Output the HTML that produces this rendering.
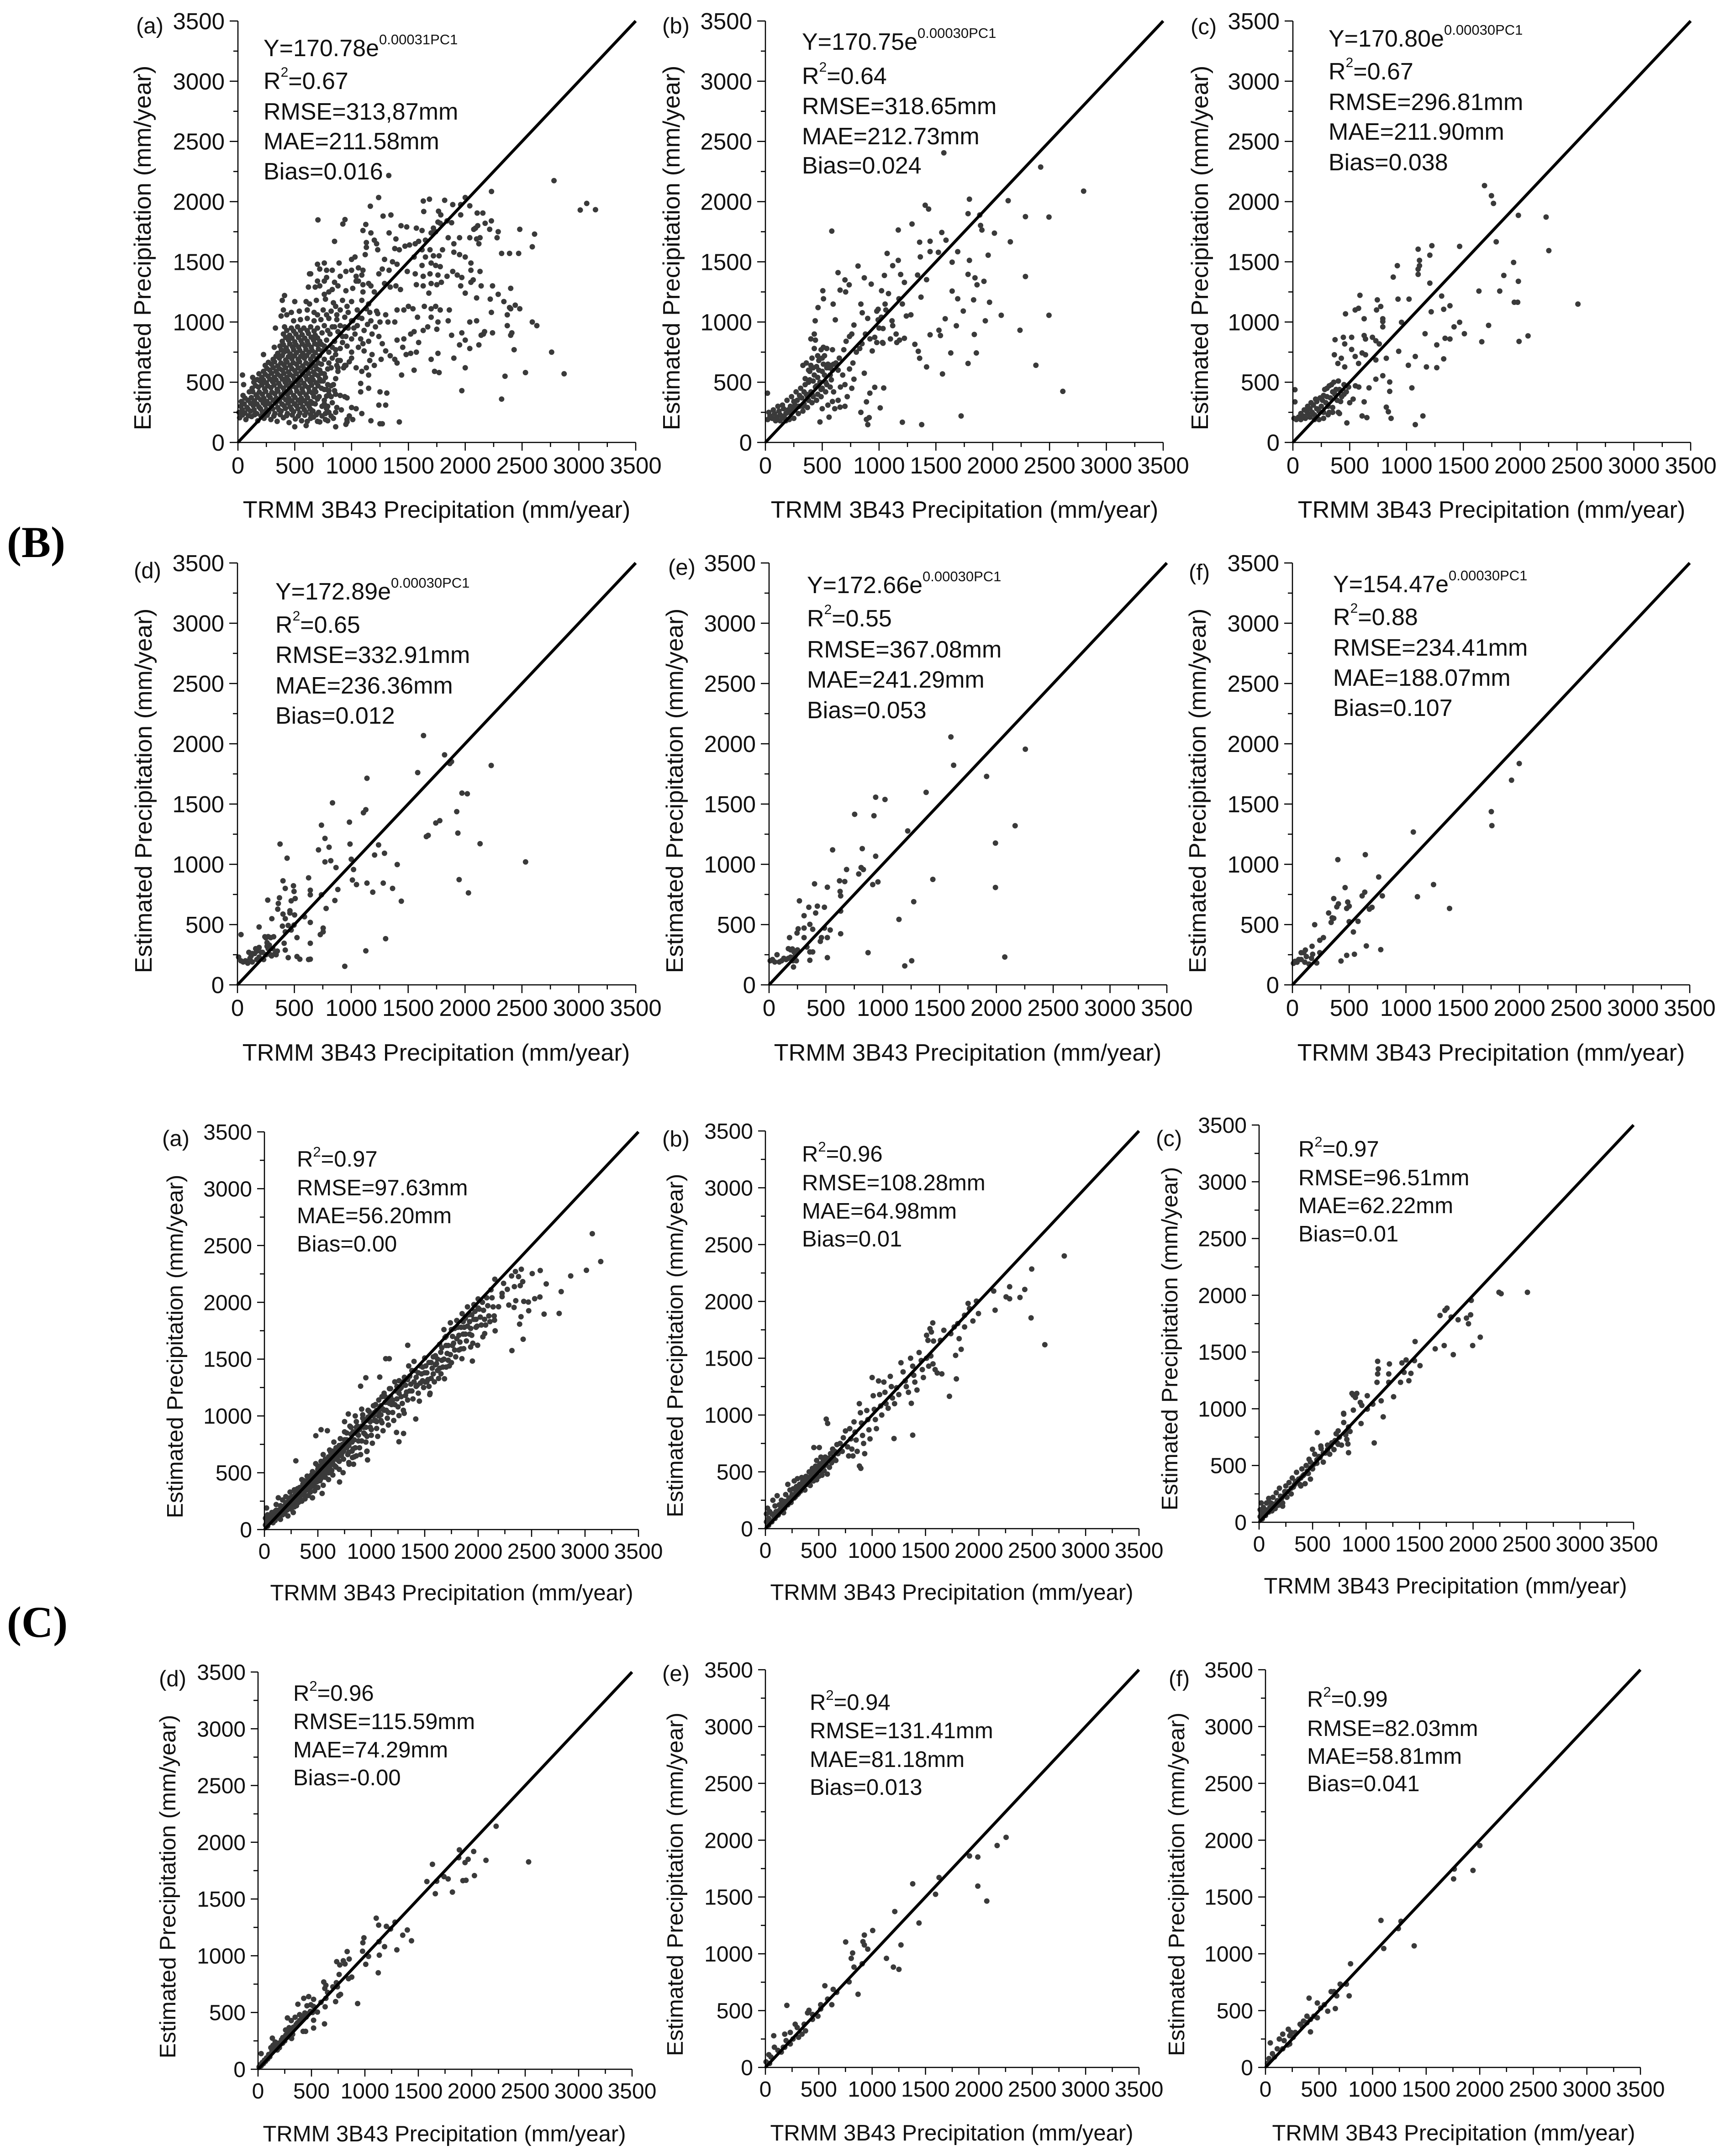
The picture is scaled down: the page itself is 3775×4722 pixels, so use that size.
<!DOCTYPE html>
<html lang="en">
<head>
<meta charset="utf-8">
<title>Estimated vs TRMM 3B43 Precipitation scatter plots</title>
<style>
html,body{margin:0;padding:0;background:#fff;}
svg{display:block;}
text{font-family:"Liberation Sans",Arial,sans-serif;fill:#111;}
.ann{font-size:52px;}
.ann2{font-size:49px;}
.title1{font-size:52px;text-anchor:middle;}
.title2{font-size:49px;text-anchor:middle;}
.letter{font-size:49px;}
.section{font-family:"Liberation Serif","Times New Roman",serif;font-weight:bold;font-size:96px;fill:#000;}
</style>
</head>
<body>
<svg id="figure" xmlns="http://www.w3.org/2000/svg" width="3775" height="4722" viewBox="0 0 3775 4722">
<rect x="0" y="0" width="3775" height="4722" fill="#fff"/>
<text class="section" x="15" y="1220">(B)</text>
<text class="section" x="15" y="3585">(C)</text>

<g id="panel-b-a">
<text class="letter" x="298" y="73">(a)</text>
<text class="title1" transform="translate(956,1134) scale(1.006,1)">TRMM 3B43 Precipitation (mm/year)</text>
<text class="title1" transform="translate(330,543) rotate(-90) scale(1.02,1)">Estimated Precipitation (mm/year)</text>
<text class="ann" x="577" y="123">Y=170.78e<tspan dy="-26" font-size="31">0.00031PC1</tspan></text>
<text class="ann" x="577" y="195">R<tspan dy="-27" font-size="30">2</tspan><tspan dy="27">=0.67</tspan></text>
<text class="ann" x="577" y="262">RMSE=313,87mm</text>
<text class="ann" x="577" y="327">MAE=211.58mm</text>
<text class="ann" x="577" y="393">Bias=0.016</text>
</g>

<g id="panel-b-b">
<text class="letter" x="1450" y="73">(b)</text>
<text class="title1" transform="translate(2112,1134) scale(1.006,1)">TRMM 3B43 Precipitation (mm/year)</text>
<text class="title1" transform="translate(1488,543) rotate(-90) scale(1.02,1)">Estimated Precipitation (mm/year)</text>
<text class="ann" x="1756" y="109">Y=170.75e<tspan dy="-26" font-size="31">0.00030PC1</tspan></text>
<text class="ann" x="1756" y="184">R<tspan dy="-27" font-size="30">2</tspan><tspan dy="27">=0.64</tspan></text>
<text class="ann" x="1756" y="250">RMSE=318.65mm</text>
<text class="ann" x="1756" y="316">MAE=212.73mm</text>
<text class="ann" x="1756" y="380">Bias=0.024</text>
</g>

<g id="panel-b-c">
<text class="letter" x="2607" y="75">(c)</text>
<text class="title1" transform="translate(3266,1134) scale(1.006,1)">TRMM 3B43 Precipitation (mm/year)</text>
<text class="title1" transform="translate(2645,543) rotate(-90) scale(1.02,1)">Estimated Precipitation (mm/year)</text>
<text class="ann" x="2909" y="102">Y=170.80e<tspan dy="-26" font-size="31">0.00030PC1</tspan></text>
<text class="ann" x="2909" y="174">R<tspan dy="-27" font-size="30">2</tspan><tspan dy="27">=0.67</tspan></text>
<text class="ann" x="2909" y="241">RMSE=296.81mm</text>
<text class="ann" x="2909" y="306">MAE=211.90mm</text>
<text class="ann" x="2909" y="373">Bias=0.038</text>
</g>

<g id="panel-b-d">
<text class="letter" x="293" y="1266">(d)</text>
<text class="title1" transform="translate(955,2323) scale(1.006,1)">TRMM 3B43 Precipitation (mm/year)</text>
<text class="title1" transform="translate(332,1732) rotate(-90) scale(1.02,1)">Estimated Precipitation (mm/year)</text>
<text class="ann" x="603" y="1313">Y=172.89e<tspan dy="-26" font-size="31">0.00030PC1</tspan></text>
<text class="ann" x="603" y="1386">R<tspan dy="-27" font-size="30">2</tspan><tspan dy="27">=0.65</tspan></text>
<text class="ann" x="603" y="1452">RMSE=332.91mm</text>
<text class="ann" x="603" y="1519">MAE=236.36mm</text>
<text class="ann" x="603" y="1585">Bias=0.012</text>
</g>

<g id="panel-b-e">
<text class="letter" x="1463" y="1259">(e)</text>
<text class="title1" transform="translate(2119,2323) scale(1.006,1)">TRMM 3B43 Precipitation (mm/year)</text>
<text class="title1" transform="translate(1495,1732) rotate(-90) scale(1.02,1)">Estimated Precipitation (mm/year)</text>
<text class="ann" x="1767" y="1299">Y=172.66e<tspan dy="-26" font-size="31">0.00030PC1</tspan></text>
<text class="ann" x="1767" y="1372">R<tspan dy="-27" font-size="30">2</tspan><tspan dy="27">=0.55</tspan></text>
<text class="ann" x="1767" y="1440">RMSE=367.08mm</text>
<text class="ann" x="1767" y="1506">MAE=241.29mm</text>
<text class="ann" x="1767" y="1573">Bias=0.053</text>
</g>

<g id="panel-b-f">
<text class="letter" x="2603" y="1270">(f)</text>
<text class="title1" transform="translate(3265,2323) scale(1.006,1)">TRMM 3B43 Precipitation (mm/year)</text>
<text class="title1" transform="translate(2640,1732) rotate(-90) scale(1.02,1)">Estimated Precipitation (mm/year)</text>
<text class="ann" x="2919" y="1297">Y=154.47e<tspan dy="-26" font-size="31">0.00030PC1</tspan></text>
<text class="ann" x="2919" y="1369">R<tspan dy="-27" font-size="30">2</tspan><tspan dy="27">=0.88</tspan></text>
<text class="ann" x="2919" y="1436">RMSE=234.41mm</text>
<text class="ann" x="2919" y="1502">MAE=188.07mm</text>
<text class="ann" x="2919" y="1568">Bias=0.107</text>
</g>

<g id="panel-c-a">
<text class="letter" x="355" y="2510">(a)</text>
<text class="title2" x="989" y="3505">TRMM 3B43 Precipitation (mm/year)</text>
<text class="title2" transform="translate(400,2949) rotate(-90) scale(1.02,1)">Estimated Precipitation (mm/year)</text>
<text class="ann2" x="650" y="2555">R<tspan dy="-22" font-size="31">2</tspan><tspan dy="22">=0.97</tspan></text>
<text class="ann2" x="650" y="2618">RMSE=97.63mm</text>
<text class="ann2" x="650" y="2679">MAE=56.20mm</text>
<text class="ann2" x="650" y="2741">Bias=0.00</text>
</g>

<g id="panel-c-b">
<text class="letter" x="1450" y="2511">(b)</text>
<text class="title2" x="2084" y="3504">TRMM 3B43 Precipitation (mm/year)</text>
<text class="title2" transform="translate(1495,2947) rotate(-90) scale(1.02,1)">Estimated Precipitation (mm/year)</text>
<text class="ann2" x="1756" y="2544">R<tspan dy="-22" font-size="31">2</tspan><tspan dy="22">=0.96</tspan></text>
<text class="ann2" x="1756" y="2607">RMSE=108.28mm</text>
<text class="ann2" x="1756" y="2669">MAE=64.98mm</text>
<text class="ann2" x="1756" y="2730">Bias=0.01</text>
</g>

<g id="panel-c-c">
<text class="letter" x="2531" y="2510">(c)</text>
<text class="title2" x="3165" y="3490">TRMM 3B43 Precipitation (mm/year)</text>
<text class="title2" transform="translate(2578,2932) rotate(-90) scale(1.02,1)">Estimated Precipitation (mm/year)</text>
<text class="ann2" x="2843" y="2533">R<tspan dy="-22" font-size="31">2</tspan><tspan dy="22">=0.97</tspan></text>
<text class="ann2" x="2843" y="2596">RMSE=96.51mm</text>
<text class="ann2" x="2843" y="2657">MAE=62.22mm</text>
<text class="ann2" x="2843" y="2719">Bias=0.01</text>
</g>

<g id="panel-c-d">
<text class="letter" x="348" y="3693">(d)</text>
<text class="title2" x="973" y="4690">TRMM 3B43 Precipitation (mm/year)</text>
<text class="title2" transform="translate(384,4132) rotate(-90) scale(1.02,1)">Estimated Precipitation (mm/year)</text>
<text class="ann2" x="642" y="3725">R<tspan dy="-22" font-size="31">2</tspan><tspan dy="22">=0.96</tspan></text>
<text class="ann2" x="642" y="3787">RMSE=115.59mm</text>
<text class="ann2" x="642" y="3849">MAE=74.29mm</text>
<text class="ann2" x="642" y="3910">Bias=-0.00</text>
</g>

<g id="panel-c-e">
<text class="letter" x="1450" y="3682">(e)</text>
<text class="title2" x="2084" y="4688">TRMM 3B43 Precipitation (mm/year)</text>
<text class="title2" transform="translate(1495,4127) rotate(-90) scale(1.02,1)">Estimated Precipitation (mm/year)</text>
<text class="ann2" x="1773" y="3745">R<tspan dy="-22" font-size="31">2</tspan><tspan dy="22">=0.94</tspan></text>
<text class="ann2" x="1773" y="3807">RMSE=131.41mm</text>
<text class="ann2" x="1773" y="3870">MAE=81.18mm</text>
<text class="ann2" x="1773" y="3931">Bias=0.013</text>
</g>

<g id="panel-c-f">
<text class="letter" x="2559" y="3693">(f)</text>
<text class="title2" x="3183" y="4688">TRMM 3B43 Precipitation (mm/year)</text>
<text class="title2" transform="translate(2593,4127) rotate(-90) scale(1.02,1)">Estimated Precipitation (mm/year)</text>
<text class="ann2" x="2862" y="3738">R<tspan dy="-22" font-size="31">2</tspan><tspan dy="22">=0.99</tspan></text>
<text class="ann2" x="2862" y="3802">RMSE=82.03mm</text>
<text class="ann2" x="2862" y="3863">MAE=58.81mm</text>
<text class="ann2" x="2862" y="3923">Bias=0.041</text>
</g>
</svg>

<script>
// Axis values (mm/year)
const axisMax = 3500;
const xTickValues = [0,500,1000,1500,2000,2500,3000,3500];
const yTickValues = [0,500,1000,1500,2000,2500,3000,3500];
const minorTickValues = [250,750,1250,1750,2250,2750,3250];
const oneToOneLine = [0,3500];

// Each series: flat list of TRMM, estimated, TRMM, estimated, ...
const seriesBa = [1327,2217,2781,2174,2231,2084,1238,2034,3069,1985,3012,1930,3146,1933,1165,1962,704,1848,942,1851,923,1814,1277,1880,1346,1889,1631,2005,1685,2020,1819,2011,1635,1918,1765,1920,1785,1890,2000,2034,1960,1975,2040,1965,1960,1890,1890,1975,2105,1905,2155,1905,2175,1820,2110,1800,
1125,1810,1100,1760,1170,1740,1330,1740,1435,1800,1485,1790,1570,1780,1620,1760,1720,1780,1760,1830,1840,1840,1880,1825,1780,1820,1700,1740,1740,1750,2230,1840,2215,1770,2290,1750,2280,1700,2480,1770,2610,1730,2590,1625,2470,1570,2320,1570,2390,1570,2075,1770,2090,1780,2040,1700,2100,1690,2130,1700,2120,1650,1950,1700,1900,1650,1850,1700,1650,1680,1560,1650,1590,1670,1470,1630,1510,1640,1390,1690,1130,1660,850,1670,1200,1680,1220,1650,1130,1620,1230,1600,1380,1610,1420,1600,1550,1540,1620,1600,1650,1540,1690,1600,1770,1550,1800,1600,1900,1580,1950,1560,2000,1540,2050,1490,2130,1420,2050,1430,1970,1370,1930,1390,1890,1420,1840,1380,1720,1550,1700,1490,1740,1470,1780,1460,1760,1390,1690,1400,1620,1470,1630,1380,1560,1400,1490,1420,1400,1480,1360,1500,1290,1520,1270,1440,1330,1430,1240,1400,1120,1560,1030,1540,1000,1520,890,1490,700,1480,760,1490,720,1440,780,1430,830,1430,950,1420,1000,1430,1060,1450,1100,1430,1040,1380,1060,1340,1150,1320,1200,1250,1290,1320,1340,1290,1390,1300,1430,1270,1570,1310,1630,1300,1700,1320,1680,1240,1750,1310,1790,1330,1960,1300,2050,1330,2070,1350,2140,1300,2240,1300,2400,1280,2000,1240,2100,1200,2220,1190,2290,1230,2340,1170,2400,1110,2440,1140,2390,1120,2480,1110,2230,1080,2370,1060,2100,1010,2040,1000,1860,1100,1780,1100,1740,1130,1700,1110,1640,1130,1540,1110,1500,1130,1460,1100,1400,1100,1300,1060,1230,1070,1160,1080,1580,1040,1630,930,1670,960,1750,940,1760,1000,1700,1040,1850,1010,1590,830,1520,900,1550,920,1400,850,1460,860,1320,1000,1380,1000,1250,1000,2370,970,2590,1000,2630,970,2240,910,2140,890,2160,900,1970,910,2000,850,1950,810,1880,890,2120,810,2040,780,2430,770,2400,890,2410,910,2170,920,1450,790,1480,730,1520,740,1570,750,1270,820,1300,760,1340,720,1380,690,1400,660,1260,690,1180,730,1110,760,1160,680,1200,640,1760,740,1700,690,1900,700,1730,590,1770,580,2000,620,1550,600,1440,560,2760,750,2870,570,2530,580,2350,550,1970,430,2320,360,1250,420,1310,410,1240,310,1300,310,1420,170,1250,155,1270,155,1170,180,1090,240,1040,280,1000,290,960,190,980,220,910,270,860,130,950,150,960,170,1010,190,1150,450,1080,490,1080,420,1150,560,1090,590,1130,620,1040,620,1000,700,940,640,880,620,840,480,820,380,860,400,900,390,940,380,960,370,780,440,800,400,760,320,780,280,820,220,860,250,720,170,770,190,600,140,640,200,660,260,500,130,
15,205,70,190,120,215,175,180,230,200,290,190,345,175,400,205,450,165,505,195,560,180,610,175,665,210,700,175,790,180,840,200,10,250,60,245,110,260,165,240,215,255,270,250,325,240,380,260,435,240,490,255,545,245,600,250,650,265,710,250,770,240,25,300,80,290,135,305,185,295,240,310,295,300,350,290,405,305,460,295,515,305,570,295,625,300,680,320,740,300,790,300,30,340,90,350,145,345,200,355,255,340,310,350,365,345,420,355,475,345,530,350,585,345,640,340,700,360,760,350,45,390,100,420,160,395,215,400,270,390,325,405,380,395,435,400,490,390,545,405,600,395,655,410,715,380,780,385,50,480,125,450,180,460,235,445,290,455,345,440,400,450,455,445,510,455,565,445,620,455,675,440,735,450,800,430,140,500,195,510,250,495,305,505,360,490,415,500,470,490,525,500,580,490,635,505,690,495,750,510,820,470,40,560,130,540,210,540,265,550,320,540,375,550,430,540,485,550,540,540,595,550,650,540,705,555,770,540,860,530,225,590,280,600,335,590,390,600,445,585,500,595,555,590,610,600,665,585,720,600,790,610,880,590,240,640,295,650,350,635,405,645,460,640,515,650,570,635,625,645,680,635,735,650,800,660,870,640,930,620,225,730,310,690,365,700,420,685,475,695,530,690,585,700,640,690,695,695,760,690,830,700,900,680,980,670,320,790,350,740,405,750,460,735,515,745,570,740,625,750,680,745,740,760,800,750,860,730,1000,750,370,800,425,785,480,795,535,790,590,800,645,790,700,810,760,800,830,790,900,780,960,800,1060,790,1100,820,390,840,445,850,500,835,555,845,610,840,665,850,720,840,780,850,850,840,920,830,1000,860,1080,860,1150,840,1240,880,330,950,400,900,455,890,510,900,565,895,620,905,680,890,740,910,810,900,880,920,950,880,1030,900,1110,930,1180,900,410,960,470,950,525,960,580,950,640,960,700,950,760,970,830,960,900,970,970,950,1050,970,1140,980,1210,960,380,1050,430,1060,490,1010,550,1020,610,1030,670,1010,730,1020,800,1030,870,1020,940,1040,1010,1010,1090,1030,1170,1010,400,1100,470,1080,540,1090,610,1100,670,1080,750,1100,820,1090,900,1100,970,1080,1050,1100,1130,1110,1220,1090,390,1180,410,1220,500,1170,600,1170,630,1150,690,1180,770,1190,840,1160,920,1180,1000,1170,1090,1180,1150,1150,620,1290,680,1290,720,1300,760,1230,800,1250,830,1270,880,1300,950,1260,1010,1280,1100,1250,1170,1300,630,1400,640,1400,700,1340,760,1340,780,1370,850,1330,900,1380,1040,1340,1090,1390,1100,1310,
40,228,92,222,147,230,203,220,258,226,316,219,372,231,428,222,478,228,532,220,588,226,640,232,38,272,88,278,142,270,198,280,252,274,306,278,362,270,418,282,472,274,528,280,584,272,636,278,55,320,112,325,168,318,222,328,278,320,332,326,388,318,442,326,498,320,552,328,608,322,660,325,62,368,118,372,172,375,228,366,284,374,338,368,392,376,448,366,502,374,558,368,612,372,668,380,130,422,188,418,244,424,298,416,352,426,408,420,462,418,518,426,572,418,628,424,685,420,155,472,210,478,262,470,318,476,372,468,428,476,482,468,538,476,592,470,648,476,705,470,170,522,225,518,280,526,336,518,390,526,444,516,498,524,552,518,608,526,662,518,720,525,185,570,240,566,296,574,350,566,404,574,458,564,514,572,568,566,622,574,678,566,735,575,255,615,310,622,366,612,420,620,474,614,530,620,584,612,640,622,694,612,268,665,322,670,378,660,432,668,486,662,542,670,598,660,652,668,708,660,335,716,390,722,444,712,498,720,552,714,606,722,660,716,718,720,382,768,436,760,490,770,544,764,598,772,652,764,708,775,400,812,456,818,512,810,566,818,620,814,676,820,735,815,420,872,476,866,532,872,588,866,644,874,700,868,430,930,490,925,550,930,610,928,670,925,
820,620,760,570,730,510,790,480,850,430,760,440,830,330,870,290,800,250,690,230,740,220,880,680,950,640,860,770,920,880,850,960,790,930,870,1060,940,960,1020,950,1000,1010,1060,1040,960,1130,860,1130,780,1060,700,1060];

const seriesBb = [1570,2405,2422,2287,2800,2087,1795,2020,2136,2008,1406,1970,1436,1938,2288,1875,2495,1872,1783,1900,1886,1889,584,1755,1893,1802,1905,1764,2015,1738,2155,1666,1169,1764,1290,1814,1552,1744,1589,1680,1357,1663,1449,1671,1071,1570,1522,1579,1692,1584,1449,1585,1363,1541,1960,1555,1643,1497,1795,1512,815,1465,1169,1512,1120,1468,639,1410,1190,1395,870,1367,700,1350,1047,1387,1339,1390,1783,1396,1844,1367,1923,1338,1862,1309,2288,1378,1418,1352,1223,1329,931,1315,737,1309,657,1265,505,1260,706,1250,1022,1260,1083,1236,1643,1257,1692,1193,1832,1184,1972,1164,511,1193,596,1149,463,1120,1175,1193,1205,1150,1369,1207,1053,1149,992,1106,840,1149,852,1077,1741,1091,2075,1056,2495,1056,1582,1027,1935,1010,1680,969,2240,932,1527,932,1449,894,1838,897,1540,888,438,1010,615,1018,779,975,992,1018,1035,946,1114,1010,962,873,1223,865,1156,830,1035,824,1315,815,1345,757,1357,699,1631,743,1856,743,1418,627,1783,656,1558,569,2380,641,2617,424,1722,220,1205,168,1375,148,901,148,889,191,840,250,913,206,1010,287,962,458,1041,452,919,409,889,337,657,293,779,525,870,575,18,409,
20,190,40,220,60,200,80,240,100,210,120,260,140,220,160,280,180,240,200,270,220,300,240,260,260,310,280,350,300,300,320,370,340,320,360,400,380,350,400,420,420,380,440,460,460,400,480,500,500,450,520,560,540,480,560,620,580,520,600,650,30,250,70,270,110,300,150,310,190,350,230,380,270,420,310,450,350,480,390,520,430,560,470,600,510,650,290,240,330,260,370,290,410,330,450,350,490,380,530,420,570,460,180,180,210,190,250,200,130,180,90,180,350,530,390,590,330,640,360,660,410,700,430,780,440,850,400,860,430,900,490,770,520,720,470,680,450,630,510,790,540,780,590,770,620,660,640,600,680,560,700,480,760,450,720,380,640,350,610,280,480,170,560,210,500,280,590,340,550,310,600,420,660,460,700,300,740,610,770,660,800,750,830,780,850,820,880,900,900,1030,920,860,940,760,980,830,1030,830,1100,860,1150,900,1180,850,1240,1050,1280,1060,1120,970,1060,1100,1020,1040,980,1090,760,900,740,880,710,840,690,770,650,700,1000,950,
130,230,170,200,210,250,250,280,290,300,330,300,370,380,410,400,450,470,490,440,530,500,570,560,590,600,250,340,300,390,340,420,380,500,420,510,460,540,500,590,540,620,580,640,420,620,460,720,400,640,380,600,500,700,550,650];

const seriesBc = [1686,2133,1747,2049,1765,1985,1984,1886,2228,1872,2252,1593,1789,1666,1467,1628,1223,1634,1102,1605,1205,1555,1114,1512,1114,1468,1102,1439,1102,1396,919,1468,883,1373,1205,1323,590,1222,1309,1216,743,1184,925,1190,1022,1190,773,1129,736,1100,1217,1085,1382,1135,1327,1106,578,1114,548,1100,463,1068,627,1027,791,1027,791,1004,956,998,1467,998,1418,960,791,960,1722,972,1942,1495,1856,1387,1984,1338,1637,1257,1820,1257,1948,1164,1978,1164,2508,1149,1990,839,2069,885,1662,836,1509,903,1163,903,1339,865,1382,859,1266,810,931,757,627,888,639,859,700,873,517,873,444,873,371,853,456,818,517,772,609,743,730,844,760,818,639,728,822,699,730,685,1077,714,1327,694,1016,641,1175,627,1266,621,548,714,365,728,426,699,396,656,456,627,578,656,791,554,730,525,852,502,670,453,1047,453,852,424,627,337,822,293,840,255,864,200,1144,220,1077,148,609,220,651,206,475,162,18,438,18,337,
10,200,30,190,50,210,70,190,90,220,110,200,130,240,150,210,170,250,190,230,210,280,230,260,250,300,270,250,290,330,310,300,330,370,350,290,370,400,390,350,410,440,430,380,450,480,470,420,490,460,300,450,320,470,270,390,240,370,210,340,180,310,150,280,120,260,270,200,320,250,350,250,400,250,410,240,280,440,340,480,360,500,400,510,380,440,420,340,450,400,500,330,530,360,550,470,580,460,310,230,230,190,190,190,70,240,100,270,130,300,160,330,200,360,260,350,300,380,350,420];

const seriesBd = [1635,2068,1820,1908,1881,1852,1866,1836,2230,1820,1584,1761,1138,1714,1973,1591,2020,1585,835,1510,1128,1453,1107,1428,984,1350,738,1325,1778,1362,1743,1343,1927,1437,1676,1240,1660,1230,1937,1259,2132,1171,769,1215,805,1142,712,1120,374,1168,989,1168,1240,1161,1292,1092,1205,1077,436,1051,1000,1042,820,1030,769,1020,1404,998,866,973,1020,957,2532,1020,1948,873,400,863,1010,870,1046,832,1138,844,1281,844,1363,800,1189,769,2030,763,492,822,625,888,420,800,497,775,640,785,640,747,882,791,738,747,856,700,1440,694,266,703,507,716,472,697,369,722,359,675,354,628,400,587,461,615,461,596,502,580,302,549,589,565,420,549,640,518,190,480,779,634,395,487,446,493,497,496,420,440,472,455,753,471,753,440,728,417,31,417,1302,383,292,392,241,399,318,399,523,392,410,345,640,345,420,289,1128,282,523,235,446,226,548,213,625,210,640,213,943,154,
10,230,30,200,50,190,70,200,90,180,110,220,130,190,150,260,170,210,190,230,210,270,230,210,250,250,270,300,290,250,310,300,330,260,350,280,130,260,160,300,190,310,250,390,260,350,270,400,260,320,220,270,100,270,120,240,170,280,280,330,300,240,340,250];

const seriesBe = [1600,2057,1624,1822,2255,1955,1914,1729,1382,1597,2165,1320,1992,1176,1441,875,1992,808,1273,690,2074,231,1255,200,938,1557,1020,1538,753,1415,923,1403,1220,1277,820,1130,559,1120,938,1067,682,957,789,920,810,973,830,957,400,838,912,832,958,854,513,810,620,863,666,857,625,775,630,738,267,697,350,644,425,653,487,644,410,596,308,574,630,612,1143,543,359,502,308,471,384,461,487,471,538,455,256,465,246,430,180,392,308,392,461,392,513,392,630,424,451,361,333,314,205,298,220,273,246,267,359,273,384,273,871,267,513,226,359,204,215,148,1194,157,
10,200,30,210,50,190,70,250,90,190,110,200,130,220,150,210,170,220,190,230,210,200,230,240,250,290,190,290,170,300,240,200];

const seriesBf = [1998,1836,1930,1698,1752,1437,1757,1321,1065,1268,642,1080,400,1039,760,895,464,807,1243,832,1384,634,1101,731,792,738,637,769,614,738,364,716,487,687,405,672,500,653,391,647,478,634,319,596,701,643,678,628,350,556,364,552,341,518,500,524,578,527,196,499,537,439,273,392,241,370,173,320,651,323,778,292,546,254,478,245,428,198,241,267,178,254,100,267,77,267,114,289,168,220,214,182,146,173,109,188,55,210,23,195,9,179,41,188,77,210,123,235];

const seriesCa = [3068,2604,3147,2359,3013,2282,2866,2232,2777,2094,2758,1902,2617,1896,2637,2162,2581,2280,2506,2253,2404,2291,2349,2271,2378,2226,2417,2182,2394,2147,2313,2232,2339,2138,2578,2047,2529,2032,2470,2002,2427,2008,2352,2014,2287,1976,2336,1955,2473,1926,2401,1873,2388,1808,2421,1675,2316,1575,2156,2203,2238,2167,2224,2079,2273,2114,2224,2050,2191,1961,2153,1843,2159,1749,2061,1725,2044,1696,1995,1622,1930,1607,1865,1592,1946,1483,1848,1504,1750,1469,1685,1327,1652,1371,1701,1430,1547,1188,1505,1298,1416,973,1308,1023,1259,1003,1302,846,1236,855,1259,773,965,613,958,687,860,649,824,634,834,575,792,575,736,501,703,419,540,318,448,280,294,605,481,826,530,879,589,870,785,1017,900,1262,949,1336,1079,1342,1135,1504,1168,1504,1341,1622,
10,40,10,100,20,190,30,130,40,60,50,110,60,90,70,150,80,60,90,130,100,80,100,160,110,220,120,110,130,280,140,150,150,90,150,210,170,130,170,260,180,180,190,140,200,230,200,290,210,170,220,120,230,210,240,330,250,180,250,270,260,220,270,150,280,350,290,260,300,210,300,330,310,280,320,240,330,370,340,300,350,250,350,440,360,360,370,310,380,270,390,420,400,350,400,470,410,300,420,380,430,330,440,430,450,280,450,510,460,390,470,340,480,580,480,460,490,420,500,370,510,540,510,480,520,430,530,600,540,500,550,390,550,660,560,540,570,460,580,620,590,510,600,440,600,570,610,700,620,620,630,520,640,580,640,480,650,770,650,680,660,620,670,550,680,720,690,660,700,600,700,530,710,800,720,740,730,680,740,620,750,950,750,860,760,790,770,720,780,660,790,590,800,910,810,840,820,770,830,710,840,640,850,1000,860,900,870,840,880,780,890,720,900,660,910,1060,920,980,930,900,940,840,950,770,960,690,970,1050,980,970,990,900,1000,830,1010,760,1020,1090,1030,1030,1040,960,1050,890,1060,820,1070,1140,1080,1070,1090,1010,1100,940,1110,870,1120,1200,1130,1120,1140,1050,1150,980,1160,920,1170,1240,1180,1170,1190,1100,1200,1030,1210,960,1220,1300,1230,1220,1240,1150,1250,1080,1260,1310,1270,1240,1280,1170,1290,1110,1300,1050,1310,1340,1320,1270,1330,1210,1340,1140,1350,1440,1360,1350,1370,1280,1380,1220,1390,1150,1400,1480,1410,1400,1420,1340,1430,1270,1440,1200,1450,1130,1460,1440,1470,1370,1480,1310,1490,1250,1500,1510,1510,1440,1520,1380,1530,1320,1540,1260,1550,1200,1560,1470,1570,1420,1580,1370,1590,1300,1600,1530,1610,1460,1620,1400,1630,1330,1640,1630,1650,1560,1660,1490,1670,1430,1680,1760,1690,1690,1700,1620,1710,1550,1720,1490,1730,1440,1740,1820,1750,1760,1760,1700,1770,1640,1780,1580,1790,1520,1800,1840,1810,1780,1820,1710,1830,1650,1840,1590,1850,1900,1860,1830,1870,1780,1880,1720,1890,1660,1900,1960,1910,1890,1920,1830,1930,1770,1940,1710,1950,1640,1960,1980,1970,1920,1980,1850,1990,1790,2000,2030,2010,1940,2020,1870,2030,1800,2040,2000,2050,1930,2060,1850,2070,1800,2080,2040,2090,1970,2100,1880,2110,1830,2120,2110,2130,2040,2140,1960,2150,1880,
30,30,70,90,110,130,130,110,150,180,160,150,190,210,210,240,230,260,240,200,260,290,280,280,290,320,310,330,330,320,340,360,360,400,370,370,390,370,400,410,420,440,430,410,450,450,460,500,470,420,490,490,500,530,510,430,530,510,540,570,560,590,570,530,590,620,600,640,610,550,630,650,640,690,660,680,680,640,700,740,710,680,730,750,750,790,770,790,790,740,810,900,830,860,850,860,870,910,890,880,910,910,930,950,950,960,970,990,990,1000,1010,1010,1030,960,1050,1050,1070,1040,1090,1090,1110,1060,1130,1170,1150,1140,1170,1110,
20,60,40,100,60,130,80,120,110,170,130,170,140,110,160,200,180,140,200,180,220,230,240,280,250,220,270,240,280,200,300,270,310,360,320,290,340,260,360,310,370,430,380,340,400,380,410,440,430,370,440,480,460,440,470,380,490,460,500,560,520,480,530,450,550,560,560,480,570,620,590,560,600,500,620,680,630,590,650,620,660,560,670,720,690,610,710,740,720,650,740,690,750,720,770,850,780,760,790,680,810,790,820,690,840,790,850,720,860,950,880,830,900,900,910,780,920,1010,930,850,950,900,960,820,980,1040,990,950,1000,880,1020,1000,1040,1100,1050,950,1070,1000,1090,960,1100,1170,1120,1050,1140,1120,1160,1030,1180,1240,1200,1140,1220,1100,1240,1260,1260,1200,1280,1250,1300,1300,1320,1180,1340,1320,1360,1220,1380,1400,1400,1300,1420,1260,1440,1380,1460,1290,1480,1430,1500,1380,1520,1300,1540,1470,1560,1330,1580,1520,1600,1450,1620,1500,1640,1420,1660,1600,1680,1500,1700,1700,1720,1620,1740,1540,1760,1620,1780,1770,1800,1680,1820,1580,1840,1780,1860,1720,1880,1860,1900,1790,1920,1720,1940,1890,1960,1850,1980,1780,2000,1950];

const seriesCb = [2800,2400,2495,2285,2288,2129,2430,2105,2255,2040,2288,2023,2385,2035,2139,2091,2152,1923,2489,1855,2618,1619,1977,2002,1899,1982,1912,1937,1996,1893,1866,1878,1944,1828,1802,1805,1769,1775,1866,1775,1672,1746,1737,1716,1815,1672,1640,1657,1575,1651,1834,1578,1782,1525,1568,1811,1542,1760,1555,1731,1510,1702,1523,1657,1653,1362,1789,1318,1724,1165,1367,1103,1380,823,1205,793,894,531,881,551,570,964,583,926,505,714,454,714,
10,60,10,130,20,180,30,90,40,150,50,70,60,130,70,250,80,110,90,200,100,150,110,290,120,130,130,210,140,170,150,250,160,210,170,140,180,240,190,300,200,210,210,390,220,270,230,340,240,230,250,300,260,350,270,420,280,280,290,370,300,440,310,310,320,390,330,350,340,450,350,380,360,420,370,340,380,460,390,400,400,440,410,500,420,380,430,470,440,530,450,420,460,490,470,550,480,430,480,600,490,510,500,460,510,570,520,630,530,530,530,470,540,590,550,510,560,630,570,560,580,480,590,620,600,540,610,660,620,580,630,700,640,620,650,680,660,600,670,740,680,660,700,750,720,680,730,800,750,860,770,720,780,640,790,880,800,790,810,700,820,640,830,940,840,850,850,780,860,680,880,1100,890,1020,900,930,910,820,920,750,930,660,950,1040,960,960,970,870,980,790,1000,1330,1010,1170,1020,1050,1030,960,1040,880,1060,1300,1070,1180,1080,1080,1090,1000,1110,1290,1120,1200,1130,1100,1150,1060,1170,1340,1180,1250,1190,1150,1210,1100,1230,1240,1250,1180,1270,1460,1290,1380,1310,1300,1320,1250,1340,1200,1360,1500,1380,1430,1390,1350,1400,1290,1420,1220,1440,1550,1460,1480,1470,1400,1480,1330,1510,1500,1530,1430,1550,1520,1570,1450,1590,1400,1610,1370,
30,30,60,60,90,90,120,120,150,150,180,180,210,210,240,240,270,270,300,300,330,330,360,360,390,390,420,420,450,450,480,480,510,510,540,540,100,110,130,160,170,190,200,240,230,270,260,300,290,330,320,360,350,420,380,420,410,450,440,490,470,510,500,530,525,560,555,580,580,600];

const seriesCc = [2508,2026,2242,2026,2262,2014,1983,1955,1977,1828,1957,1749,2067,1631,1996,1557,1815,1477,1756,1887,1737,1867,1691,1822,1795,1808,1860,1784,1938,1799,1458,1592,1730,1557,1646,1528,1108,1418,1218,1395,1114,1351,1108,1307,1212,1307,1374,1430,1452,1424,1335,1404,1504,1380,1419,1312,1355,1321,1322,1233,1400,1247,1212,1233,1102,1233,1257,1106,1141,1070,1063,1041,1160,929,1076,699,868,1135,913,1135,1011,1115,946,1056,1011,997,881,988,791,953,791,879,836,840,953,870,739,805,836,805,544,790,836,613,739,687,577,672,499,643,467,555,382,333,220,142,
10,50,10,110,20,170,30,80,40,130,50,60,60,110,70,170,80,90,90,210,100,130,110,170,120,100,130,220,140,160,150,120,160,260,170,190,180,150,190,300,200,230,220,170,240,270,250,320,260,220,280,350,300,250,310,390,320,310,340,360,350,440,370,380,390,320,400,470,410,410,430,340,440,500,460,430,480,380,480,530,500,470,520,600,540,520,560,580,580,650,600,530,620,610,640,680,660,600,680,700,700,640,720,780,730,700,750,750,770,680,790,960,810,770,820,730,830,690,850,800,880,1120,900,1100,960,1030,
30,30,60,60,90,90,120,120,150,150,180,180,210,210,240,240,270,270,300,300,330,330,360,360,390,390,420,420,450,450,480,480,510,510,540,550,570,570,600,610,640,640,670,670,710,720];

const seriesCd = [2228,2141,2532,1827,1884,1933,2018,1919,1878,1864,1966,1850,1937,1821,2133,1841,1632,1806,1580,1654,1672,1657,1740,1697,1779,1677,2025,1706,1917,1662,1946,1665,1659,1547,1819,1561,1106,1331,1129,1270,1201,1259,1282,1296,1240,1236,1397,1227,1354,1181,1436,1132,1299,1052,1184,1080,1132,1124,991,1158,981,1115,978,1040,1135,1005,1034,994,1008,925,834,1037,853,971,736,948,798,956,814,928,765,919,1125,850,759,835,877,812,847,798,615,769,635,740,625,712,733,763,700,726,743,726,651,677,635,625,772,660,756,648,726,596,932,579,628,550,589,590,474,640,428,625,520,616,373,573,458,559,494,568,520,553,556,504,520,432,520,363,622,400,275,452,311,429,347,458,389,481,438,496,422,334,445,334,357,395,291,366,258,346,314,271,324,308,232,279,29,138,134,274,
10,20,20,40,30,30,40,60,50,50,60,80,70,70,80,100,90,90,100,130,110,110,120,190,130,160,140,210,150,180,160,240,170,200,180,170,190,230,200,190,210,220,220,260,230,230,240,280,250,250,260,300,270,280,280,320,290,310,300,350,310,330,330,370,350,380,370,410,390,430,410,450,430,470,450,460,470,490,490,510,510,500];

const seriesCe = [2255,2025,2171,1953,1912,1861,1990,1852,1990,1596,2074,1464,1627,1671,1380,1616,1594,1524,1439,1271,1212,1372,1005,1205,927,1165,752,1104,914,1107,927,1078,959,1041,1270,1078,817,1007,804,960,1134,960,907,912,830,883,1199,883,1251,863,784,753,868,644,557,719,635,687,668,661,583,601,622,552,201,546,518,552,408,503,395,480,518,515,492,451,441,466,363,380,376,322,279,380,298,351,311,265,233,308,194,236,181,293,78,279,233,207,168,178,84,178,117,150,32,112,52,92,6,49,39,35,149,135,181,178,259,250,343,293,441,423];

const seriesCf = [2001,1953,1937,1734,1762,1746,1756,1659,1265,1286,1240,1222,1078,1294,1104,1047,1388,1070,794,912,697,733,755,733,781,630,665,630,652,518,613,667,639,667,581,495,407,610,420,313,516,523,484,567,484,437,387,451,355,408,342,360,239,308,278,308,213,336,161,293,207,198,45,216,129,250,174,236,84,92,110,164,32,78,19,35,65,121,161,164,549,552,452,451,420,423,387,394,323,380,258,265,226,207,226,279];

// Panel frames: pixel rectangle of each plot area and its drawing style
const panelFrames = [
  {id:'panel-b-a',x0:521,x1:1392,top:46,bottom:969,series:seriesBa,big:true},
  {id:'panel-b-b',x0:1676,x1:2547,top:46,bottom:969,series:seriesBb,big:true},
  {id:'panel-b-c',x0:2831,x1:3702,top:46,bottom:969,series:seriesBc,big:true},
  {id:'panel-b-d',x0:520,x1:1392,top:1233,bottom:2157,series:seriesBd,big:true},
  {id:'panel-b-e',x0:1684,x1:2555,top:1233,bottom:2157,series:seriesBe,big:true},
  {id:'panel-b-f',x0:2830,x1:3700,top:1233,bottom:2157,series:seriesBf,big:true},
  {id:'panel-c-a',x0:579,x1:1398,top:2479,bottom:3350,series:seriesCa,big:false},
  {id:'panel-c-b',x0:1676,x1:2494,top:2477,bottom:3348,series:seriesCb,big:false},
  {id:'panel-c-c',x0:2757,x1:3577,top:2464,bottom:3334,series:seriesCc,big:false},
  {id:'panel-c-d',x0:565,x1:1384,top:3662,bottom:4532,series:seriesCd,big:false},
  {id:'panel-c-e',x0:1676,x1:2494,top:3657,bottom:4528,series:seriesCe,big:false},
  {id:'panel-c-f',x0:2771,x1:3592,top:3657,bottom:4528,series:seriesCf,big:false}
];

const SVG_NS = 'http://www.w3.org/2000/svg';

function addLine(parent, x1, y1, x2, y2, width, color) {
  const ln = document.createElementNS(SVG_NS, 'line');
  ln.setAttribute('x1', x1);
  ln.setAttribute('y1', y1);
  ln.setAttribute('x2', x2);
  ln.setAttribute('y2', y2);
  ln.setAttribute('stroke', color);
  ln.setAttribute('stroke-width', width);
  parent.appendChild(ln);
  return ln;
}

function drawPanel(frame) {
  const group = document.getElementById(frame.id);
  const xScale = v => frame.x0 + (v / axisMax) * (frame.x1 - frame.x0);
  const yScale = v => frame.bottom - (v / axisMax) * (frame.bottom - frame.top);
  const tickFont = frame.big ? 51 : 48;
  const labelGapY = frame.big ? 29 : 27;
  const labelGapX = frame.big ? 68 : 64;
  const baselineShift = frame.big ? 18 : 17;
  const majorLen = frame.big ? 18 : 16;
  const minorLen = 10;

  const marks = document.createElementNS(SVG_NS, 'g');
  
  
  group.appendChild(marks);
  for (let i = 0; i + 1 < frame.series.length; i += 2) {
    const dot = document.createElementNS(SVG_NS, 'circle');
    
    
    dot.setAttribute('cx', xScale(frame.series[i]));
    dot.setAttribute('cy', yScale(frame.series[i + 1]));
    dot.setAttribute('r', 6);
    dot.setAttribute('fill', '#3a3a3a');
    marks.appendChild(dot);
  }

  const diag = addLine(group, xScale(oneToOneLine[0]), yScale(oneToOneLine[0]), xScale(oneToOneLine[1]), yScale(oneToOneLine[1]), 6.5, '#000');
  
  

  const xAxis = addLine(group, frame.x0, frame.bottom, frame.x1, frame.bottom, 2.5, '#000');
  
  
  const yAxis = addLine(group, frame.x0, frame.top, frame.x0, frame.bottom, 2.5, '#000');
  
  

  minorTickValues.forEach(v => {
    const mx = addLine(group, xScale(v), frame.bottom, xScale(v), frame.bottom + minorLen, 2.5, '#000');
    
    
    const my = addLine(group, frame.x0 - minorLen, yScale(v), frame.x0, yScale(v), 2.5, '#000');
    
    
  });

  xTickValues.forEach(v => {
    const tick = addLine(group, xScale(v), frame.bottom, xScale(v), frame.bottom + majorLen, 2.5, '#000');
    
    
    const label = document.createElementNS(SVG_NS, 'text');
    
    
    label.setAttribute('x', xScale(v));
    label.setAttribute('y', frame.bottom + labelGapX);
    label.setAttribute('text-anchor', 'middle');
    label.setAttribute('font-size', tickFont);
    label.textContent = String(v);
    group.appendChild(label);
  });

  yTickValues.forEach(v => {
    const tick = addLine(group, frame.x0 - majorLen, yScale(v), frame.x0, yScale(v), 2.5, '#000');
    
    
    const label = document.createElementNS(SVG_NS, 'text');
    
    
    label.setAttribute('x', frame.x0 - labelGapY);
    label.setAttribute('y', yScale(v) + baselineShift);
    label.setAttribute('text-anchor', 'end');
    label.setAttribute('font-size', tickFont);
    label.textContent = String(v);
    group.appendChild(label);
  });
}

panelFrames.forEach(drawPanel);
</script>
</body>
</html>
